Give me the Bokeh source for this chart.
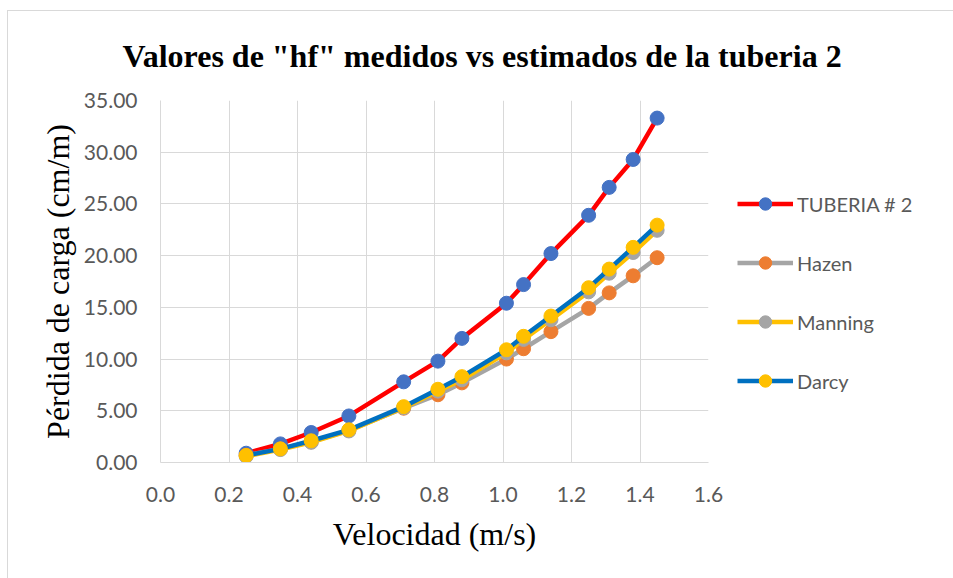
from bokeh.plotting import figure
from bokeh.models import (Range1d, Legend, LegendItem, SingleIntervalTicker,
                          NumeralTickFormatter, Title, InlineStyleSheet)
from bokeh.embed import file_html
from bokeh.resources import INLINE

# Velocidad (m/s)
velocidad = [0.25, 0.35, 0.44, 0.55, 0.71, 0.81, 0.88, 1.01, 1.06, 1.14, 1.25, 1.31, 1.38, 1.45]

# Pérdida de carga (cm/m)
tuberia_2 = [0.9, 1.8, 2.9, 4.5, 7.8, 9.8, 12.0, 15.4, 17.2, 20.2, 23.9, 26.6, 29.3, 33.3]
hazen = [0.7, 1.3, 2.0, 3.1, 5.25, 6.55, 7.7, 10.0, 11.0, 12.65, 14.9, 16.4, 18.05, 19.8]
manning = [0.6, 1.25, 1.95, 3.05, 5.3, 6.9, 8.0, 10.6, 11.9, 13.8, 16.5, 18.3, 20.3, 22.45]
darcy = [0.68, 1.32, 2.1, 3.16, 5.4, 7.08, 8.3, 10.9, 12.2, 14.16, 16.9, 18.7, 20.8, 22.95]

series = [
    ("TUBERIA # 2", tuberia_2, "#FF0000", "#4472C4"),
    ("Hazen", hazen, "#A5A5A5", "#ED7D31"),
    ("Manning", manning, "#FFC000", "#A5A5A5"),
    ("Darcy", darcy, "#0070C0", "#FFC000"),
]

p = figure(frame_width=548, frame_height=362, output_backend="svg",
           toolbar_location=None,
           x_range=Range1d(0, 1.6), y_range=Range1d(0, 35),
           min_border_left=160, min_border_right=245, min_border_top=100,
           min_border_bottom=116, title=None)
p.outline_line_color = None
p.background_fill_color = "white"
p.border_fill_color = "white"

# thin light frame along the top and left of the chart area
p.stylesheets = [InlineStyleSheet(css="""
:host::after {
  content: "";
  position: absolute;
  box-sizing: border-box;
  left: 7px; top: 10px; width: 946px; height: 568px;
  border-top: 1px solid #D9D9D9;
  border-left: 1px solid #D9D9D9;
  pointer-events: none;
}
""")]

tick_font = "Lato"
for ax in (p.xaxis[0], p.yaxis[0]):
    ax.axis_line_color = "#D9D9D9"
    ax.major_tick_line_color = None
    ax.minor_tick_line_color = None
    ax.major_label_text_font = tick_font
    ax.major_label_text_font_size = "21px"
    ax.major_label_text_color = "#595959"
    ax.axis_label_text_font = "Liberation Serif"
    ax.axis_label_text_font_size = "32px"
    ax.axis_label_text_font_style = "normal"
    ax.axis_label_text_color = "black"

p.xaxis.ticker = SingleIntervalTicker(interval=0.2)
p.yaxis.ticker = SingleIntervalTicker(interval=5)
p.xaxis.formatter = NumeralTickFormatter(format="0.0")
p.yaxis.formatter = NumeralTickFormatter(format="0.00")
p.xaxis.major_label_standoff = 18
p.yaxis.major_label_standoff = 17
p.xaxis.axis_label = "Velocidad (m/s)"
p.yaxis.axis_label = "Pérdida de carga (cm/m)"
p.xaxis.axis_label_standoff = 11
p.yaxis.axis_label_standoff = 5

p.xgrid.grid_line_color = "#D9D9D9"
p.ygrid.grid_line_color = "#D9D9D9"
p.xgrid.grid_line_width = 1
p.ygrid.grid_line_width = 1

items = []
for name, vals, line_color, marker_color in series:
    ln = p.line(velocidad, vals, line_color=line_color, line_width=4.5)
    sc = p.scatter(velocidad, vals, size=14, fill_color=marker_color,
                   line_color=marker_color)
    items.append(LegendItem(label=name, renderers=[ln, sc]))

# the blank legend title only pushes the entries down a little
legend = Legend(items=items, location="center_left", orientation="vertical",
                title=" ", title_text_font_size="12px", title_standoff=8,
                spacing=28, padding=0, margin=29, glyph_width=56, glyph_height=31,
                label_standoff=4, label_text_font=tick_font,
                label_text_font_size="20px", label_text_color="#595959",
                background_fill_alpha=0, border_line_color=None)
p.add_layout(legend, "right")

title = Title(text='Valores de "hf" medidos vs estimados de la tuberia 2',
              text_font="Liberation Serif", text_font_size="32px",
              text_font_style="bold", text_color="black", align="left",
              offset=-38, standoff=53)
p.add_layout(title, "above")

open("out.html", "w").write(file_html(p, INLINE))
